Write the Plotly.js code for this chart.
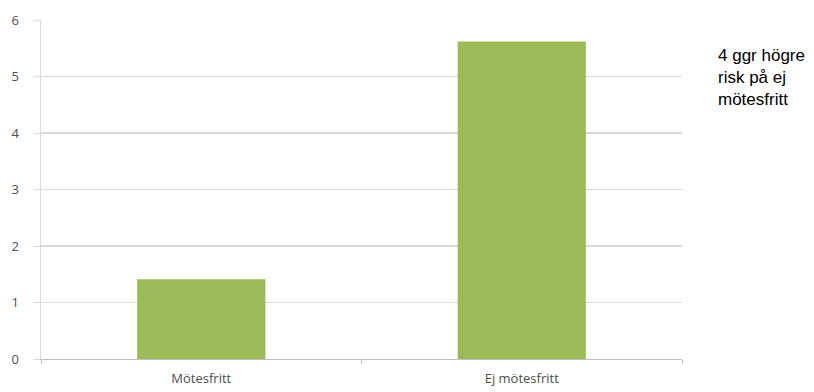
<!DOCTYPE html>
<html>
<head>
<meta charset="utf-8">
<script src="https://cdn.plot.ly/plotly-3.0.1.min.js"></script>
<style>html,body{margin:0;padding:0;background:#fff;}#chart{width:814px;height:392px;}</style>
</head>
<body>
<div id="chart"></div>
<script>
const categories = ["Mötesfritt", "Ej mötesfritt"];
const values = [1.41, 5.62];
const yTicks = [0, 1, 2, 3, 4, 5, 6];
const noteText = "4 ggr högre<br>risk på ej<br>mötesfritt";

const trace = {
  type: "bar",
  x: categories,
  y: values,
  marker: {color: "#9BBB59"},
  hoverinfo: "none"
};

const layout = {
  width: 814,
  height: 392,
  margin: {l: 41, r: 132, t: 20, b: 33},
  paper_bgcolor: "#ffffff",
  plot_bgcolor: "#ffffff",
  showlegend: false,
  bargap: 0.6,
  font: {family: "Open Sans, sans-serif", size: 13, color: "#4d4d4d"},
  xaxis: {
    type: "category",
    showline: true,
    linecolor: "#bfbfbf",
    linewidth: 1,
    ticks: "outside",
    tickson: "boundaries",
    ticklen: 4,
    tickcolor: "#bfbfbf",
    showgrid: false,
    ticklabelstandoff: 7,
    tickfont: {family: "Open Sans, sans-serif", size: 13, color: "#4d4d4d"}
  },
  yaxis: {
    range: [0, 6],
    tickvals: yTicks,
    ticktext: yTicks.map(String),
    showline: true,
    linecolor: "#d9d9d9",
    linewidth: 1.5,
    ticks: "outside",
    ticklen: 6,
    tickcolor: "#d9d9d9",
    showgrid: true,
    gridcolor: "#d9d9d9",
    gridwidth: 1.5,
    zeroline: false,
    ticklabelstandoff: 12,
    tickfont: {family: "Open Sans, sans-serif", size: 13, color: "#4d4d4d"}
  },
  annotations: [{
    xref: "paper", yref: "paper",
    x: 1.053, y: 0.929,
    xanchor: "left", yanchor: "top",
    align: "left",
    showarrow: false,
    text: noteText,
    font: {family: "Liberation Sans, Arial, sans-serif", size: 17, color: "#000000"}
  }]
};

Plotly.newPlot("chart", [trace], layout, {staticPlot: true, displayModeBar: false});
</script>
</body>
</html>
